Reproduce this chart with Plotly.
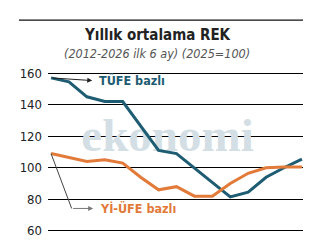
import plotly.graph_objects as go

years = list(range(2012, 2027))
tufe = [157, 154.5, 145, 142, 142, 126.5, 111, 109, 100, 90.5, 81.5, 84.5, 94, 100, 105.5]
yiufe = [109, 106.5, 104, 105, 103, 94, 86, 88, 82, 82, 90, 96.5, 100, 100.5, 100.5]
yticks = [60, 80, 100, 120, 140, 160]

BLUE = "#1d5c72"
ORANGE = "#e27a3a"
FONT = "DejaVu Sans Condensed"

fig = go.Figure()

# watermark (behind the lines)
fig.add_trace(go.Scatter(x=[2018.5], y=[118], mode="text", text=["<b>ekonomi</b>"],
                         textfont=dict(family="Liberation Serif", size=47, color="#d3dee5"),
                         hoverinfo="skip", showlegend=False, cliponaxis=False))

fig.add_trace(go.Scatter(x=years, y=tufe, mode="lines", line=dict(color=BLUE, width=3),
                         showlegend=False, cliponaxis=False))
fig.add_trace(go.Scatter(x=years, y=yiufe, mode="lines", line=dict(color=ORANGE, width=3),
                         showlegend=False, cliponaxis=False))

fig.update_layout(
    width=315, height=244,
    margin=dict(l=48, r=12, t=70, b=6),
    paper_bgcolor="white", plot_bgcolor="white",
    xaxis=dict(range=[2011.83, 2026.06], visible=False),
    yaxis=dict(range=[58, 162], tickvals=yticks, showgrid=True, gridcolor="#000000",
               gridwidth=1.2, zeroline=False, showline=False, ticks="",
               ticklabelstandoff=5,
               tickfont=dict(family=FONT, size=13, color="#222222")),
    font=dict(family=FONT),
)

# top rule
fig.add_shape(type="line", xref="paper", yref="paper", x0=-0.114, x1=1.0, y0=1.3036, y1=1.3036,
              line=dict(color="#111111", width=1.3))

# titles
fig.add_annotation(text="<b>Yıllık ortalama REK</b>", xref="paper", yref="paper", x=0.4275, y=1.2143,
                   showarrow=False, xanchor="center", yanchor="middle",
                   font=dict(family=FONT, size=15, color="#222222"))
fig.add_annotation(text="<i>(2012-2026 ilk 6 ay) (2025=100)</i>", xref="paper", yref="paper",
                   x=0.4275, y=1.1012, showarrow=False, xanchor="center", yanchor="middle",
                   font=dict(family=FONT, size=12.5, color="#555555"))

# TÜFE label and arrow
fig.add_annotation(x=2014.3, y=155.3, ax=years[0], ay=tufe[0], axref="x", ayref="y",
                   xref="x", yref="y", text="", showarrow=True, arrowhead=2, arrowsize=1,
                   arrowwidth=1, arrowcolor="#222222")
fig.add_annotation(x=2014.55, y=155.3, xref="x", yref="y", text="<b>TÜFE bazlı</b>", showarrow=False,
                   xanchor="left", yanchor="middle", font=dict(family=FONT, size=12.5, color=BLUE))

# Yİ-ÜFE label and arrow
fig.add_shape(type="line", xref="x", yref="y", x0=years[0], y0=yiufe[0], x1=2013.15, y1=74.2,
              line=dict(color="#444444", width=1))
fig.add_annotation(x=2014.35, y=74.2, ax=2013.15, ay=74.2, axref="x", ayref="y",
                   xref="x", yref="y", text="", showarrow=True, arrowhead=2, arrowsize=1,
                   arrowwidth=1, arrowcolor="#777777")
fig.add_annotation(x=2014.6, y=74.2, xref="x", yref="y", text="<b>Yİ-ÜFE bazlı</b>", showarrow=False,
                   xanchor="left", yanchor="middle", font=dict(family=FONT, size=12.5, color=ORANGE))

fig.write_html("out.html")
